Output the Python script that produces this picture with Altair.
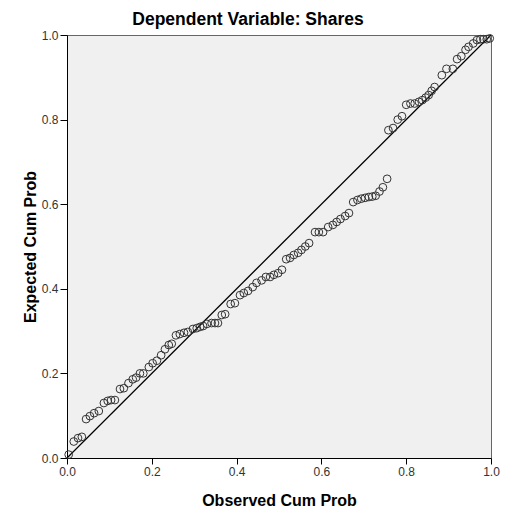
import altair as alt
import pandas as pd

# Observed cumulative probability (x) and expected cumulative probability (y)
observed = [
    0.004, 0.016, 0.026, 0.035, 0.045, 0.054, 0.064, 0.075, 0.087, 0.096,
    0.104, 0.113, 0.125, 0.134, 0.145, 0.155, 0.163, 0.172, 0.180, 0.193,
    0.202, 0.212, 0.222, 0.231, 0.240, 0.247, 0.257, 0.266, 0.276, 0.285,
    0.297, 0.306, 0.314, 0.321, 0.330, 0.341, 0.349, 0.356, 0.365, 0.373,
    0.386, 0.396, 0.408, 0.417, 0.427, 0.438, 0.447, 0.459, 0.469, 0.479,
    0.488, 0.498, 0.507, 0.517, 0.526, 0.535, 0.545, 0.553, 0.562, 0.571,
    0.585, 0.594, 0.604, 0.616, 0.627, 0.636, 0.645, 0.656, 0.665, 0.675,
    0.685, 0.694, 0.703, 0.712, 0.720, 0.728, 0.737, 0.745, 0.755,
    0.758, 0.769, 0.780, 0.790, 0.800, 0.810, 0.820, 0.830, 0.838, 0.846,
    0.853, 0.860, 0.867, 0.884, 0.895, 0.910, 0.920, 0.930, 0.940, 0.947,
    0.958, 0.967, 0.975, 0.982, 0.990, 0.997,
]
expected = [
    0.008, 0.039, 0.047, 0.050, 0.092, 0.099, 0.106, 0.111, 0.130, 0.135,
    0.137, 0.137, 0.163, 0.165, 0.177, 0.186, 0.190, 0.200, 0.200, 0.215,
    0.224, 0.230, 0.243, 0.257, 0.267, 0.270, 0.290, 0.293, 0.296, 0.298,
    0.305, 0.307, 0.310, 0.312, 0.317, 0.319, 0.319, 0.319, 0.338, 0.340,
    0.364, 0.366, 0.385, 0.390, 0.395, 0.404, 0.414, 0.420, 0.428, 0.428,
    0.433, 0.437, 0.445, 0.470, 0.473, 0.480, 0.485, 0.492, 0.500, 0.508,
    0.534, 0.534, 0.534, 0.546, 0.551, 0.558, 0.565, 0.572, 0.579, 0.605,
    0.610, 0.613, 0.615, 0.617, 0.618, 0.620, 0.630, 0.640, 0.660,
    0.775, 0.780, 0.800, 0.808, 0.835, 0.838, 0.838, 0.842, 0.846, 0.852,
    0.858, 0.868, 0.877, 0.905, 0.920, 0.920, 0.943, 0.950, 0.965, 0.972,
    0.980, 0.988, 0.990, 0.990, 0.990, 0.992,
]
ref_x = [0.0, 1.0]
ref_y = [0.0, 1.0]
ticks = [0.0, 0.2, 0.4, 0.6, 0.8, 1.0]

pts = pd.DataFrame({"obs": observed, "exp": expected})
ref = pd.DataFrame({"obs": ref_x, "exp": ref_y})

FONT = "Liberation Sans"

xscale = alt.Scale(domain=[0, 1], nice=False)
yscale = alt.Scale(domain=[0, 1], nice=False)

xaxis = alt.Axis(
    values=ticks, format=".1f", title="Observed Cum Prob", grid=False,
    tickSize=6, labelPadding=2, titlePadding=15, labelFlush=False,
)
yaxis = alt.Axis(
    values=ticks, format=".1f", title="Expected Cum Prob", grid=False,
    tickSize=7, labelPadding=2, titlePadding=3, labelFlush=False,
)

line = alt.Chart(ref).mark_line(color="black", strokeWidth=1.2).encode(
    x=alt.X("obs:Q", scale=xscale, axis=xaxis),
    y=alt.Y("exp:Q", scale=yscale, axis=yaxis),
)

points = alt.Chart(pts).mark_point(
    shape="circle", filled=False, color="#333333", size=60, strokeWidth=1, opacity=1
).encode(
    x=alt.X("obs:Q", scale=xscale),
    y=alt.Y("exp:Q", scale=yscale),
)

chart = (
    alt.layer(line, points)
    .properties(
        width=424,
        height=423,
        autosize=alt.AutoSizeParams(type="none"),
        padding={"left": 67, "top": 35, "right": 16, "bottom": 52},
        background="white",
        title=alt.TitleParams(
            "Dependent Variable: Shares",
            font=FONT, fontSize=17.5, fontWeight="bold", color="black",
            anchor="middle", dx=-31, offset=1,
        ),
    )
    .configure_view(fill="#f0f0f0", stroke="#666666", strokeWidth=1)
    .configure_axis(
        labelFont=FONT, labelFontSize=12, labelColor="#333333",
        titleFont=FONT, titleFontSize=16, titleFontWeight="bold", titleColor="black",
        domainColor="black", tickColor="black", domainWidth=1,
    )
)

chart.save("out.html", embed_options={"renderer": "svg", "actions": False})
